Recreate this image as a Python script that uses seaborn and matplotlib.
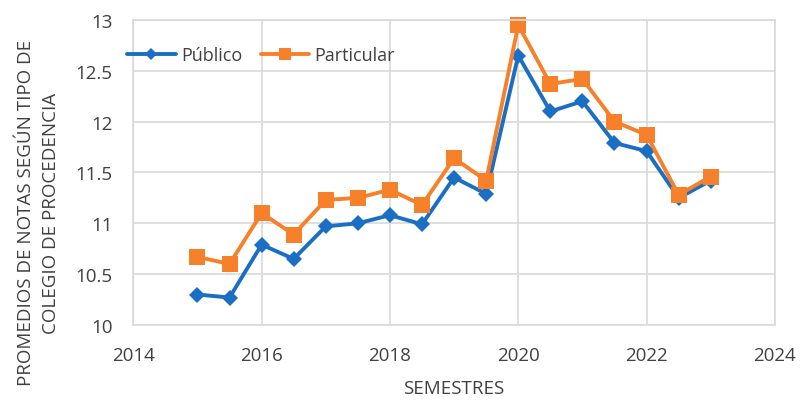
import pandas as pd
import matplotlib.pyplot as plt
import seaborn as sns

# Semesters (2015-I ... 2023-I) as decimal years
semestres = [2015, 2015.5, 2016, 2016.5, 2017, 2017.5, 2018, 2018.5, 2019,
             2019.5, 2020, 2020.5, 2021, 2021.5, 2022, 2022.5, 2023]

publico = [10.30, 10.27, 10.79, 10.65, 10.97, 11.00, 11.08, 10.99, 11.45,
           11.29, 12.65, 12.10, 12.20, 11.79, 11.71, 11.25, 11.42]
particular = [10.67, 10.60, 11.10, 10.89, 11.23, 11.25, 11.33, 11.18, 11.64,
              11.42, 12.95, 12.37, 12.42, 12.00, 11.87, 11.28, 11.46]

df = pd.DataFrame({
    "semestre": semestres * 2,
    "promedio": publico + particular,
    "tipo": ["Público"] * len(publico) + ["Particular"] * len(particular),
})

sns.set_style("white")
plt.rcParams["font.family"] = ["Open Sans", "DejaVu Sans"]

fig = plt.figure(figsize=(8.03, 4.02), dpi=100)
ax = fig.add_axes([0.166, 0.189, 0.799, 0.759])

palette = {"Público": "#1a6fc4", "Particular": "#f7802a"}
markers = {"Público": "D", "Particular": "s"}
sizes = {"Público": 8.5, "Particular": 11}

for tipo in ["Público", "Particular"]:
    sub = df[df["tipo"] == tipo]
    sns.lineplot(data=sub, x="semestre", y="promedio", ax=ax, color=palette[tipo],
                 marker=markers[tipo], markersize=sizes[tipo], markeredgewidth=0,
                 linewidth=2.8, label=tipo, clip_on=False)

ax.set_xlim(2014, 2024)
ax.set_ylim(10, 13)
ax.set_xticks(range(2014, 2025, 2))
ax.set_yticks([10, 10.5, 11, 11.5, 12, 12.5, 13])
ax.set_yticklabels(["10", "10.5", "11", "11.5", "12", "12.5", "13"])
ax.grid(True, color="#d9d9d9", linewidth=1.2)
for s in ax.spines.values():
    s.set_color("#d9d9d9")
    s.set_linewidth(1.2)
ax.tick_params(axis="both", labelsize=13.5, colors="#404040", length=0)
ax.tick_params(axis="y", pad=15)
ax.tick_params(axis="x", pad=15)

ax.set_xlabel("SEMESTRES", fontsize=13.5, color="#404040")
ax.xaxis.set_label_coords(0.5, -0.178)
ax.set_ylabel("PROMEDIOS DE NOTAS SEGÚN TIPO DE\nCOLEGIO DE PROCEDENCIA",
              fontsize=13.5, color="#404040", linespacing=1.45)
ax.yaxis.set_label_coords(-0.115, 0.37)

leg = ax.legend(loc="center left", bbox_to_anchor=(-0.035, 0.885), ncol=2, frameon=False,
                fontsize=13, handlelength=2.7, columnspacing=1.0, handletextpad=0.3,
                markerscale=0.75)
for t in leg.get_texts():
    t.set_color("#404040")

fig.savefig("out.png", dpi=100)
